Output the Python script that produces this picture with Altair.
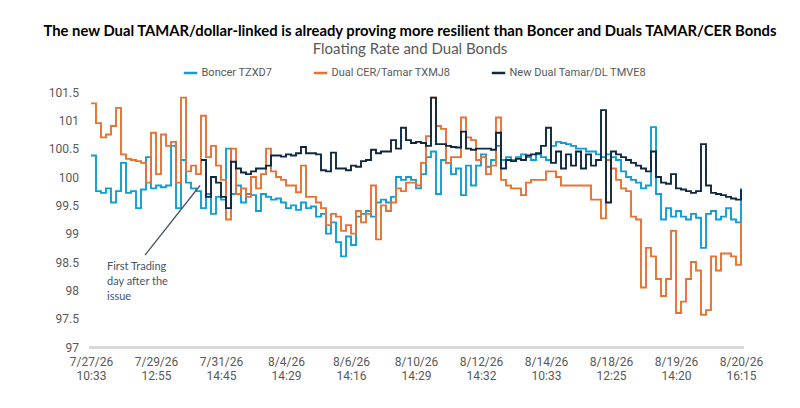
import altair as alt
import pandas as pd

# ---------------- data ----------------
series_names = ["Boncer TZXD7", "Dual CER/Tamar TXMJ8", "New Dual Tamar/DL TMVE8"]
series_colors = ["#0F9ED5", "#E97132", "#0E2841"]

tick_dates = ["7/27/26", "7/29/26", "7/31/26", "8/4/26", "8/6/26", "8/10/26",
              "8/12/26", "8/14/26", "8/18/26", "8/19/26", "8/20/26"]
tick_times = ["10:33", "12:55", "14:45", "14:29", "14:16", "14:29",
              "14:32", "10:33", "12:25", "14:20", "16:15"]
tick_idx = [0, 13, 26, 39, 52, 65, 78, 91, 104, 117, 130]
y_ticks = [97, 97.5, 98, 98.5, 99, 99.5, 100, 100.5, 101, 101.5]

boncer = [
    100.38, 99.75, 99.72, 99.80, 99.55, 99.75, 100.25, 99.72, 99.75, 99.45,
    99.78, 100.35, 99.80, 99.85, 99.82, 99.85, 100.55, 99.45, 100.30, 99.90,
    99.80, 99.75, 99.45, 99.70, 99.35, 99.65, 99.60, 100.50, 99.70, 99.85,
    99.55, 99.70, 99.68, 99.40, 99.70, 99.65, 99.60, 99.62, 99.55, 99.45,
    99.50, 99.42, 99.55, 99.45, 99.48, 99.30, 99.35, 99.00, 99.20, 98.85,
    98.60, 98.95, 98.80, 99.30, 99.35, 99.40, 99.30, 99.55, 99.60, 99.55,
    99.65, 100.00, 99.95, 100.00, 99.95, 99.80, 100.05, 100.35, 100.45, 99.70,
    100.30, 100.25, 100.05, 100.15, 99.68, 100.20, 99.85, 100.20, 100.40, 100.18,
    100.30, 100.55, 100.30, 100.35, 100.30, 100.35, 100.40, 100.35, 100.30, 100.40,
    100.35, 100.30, 100.55, 100.62, 100.60, 100.58, 100.55, 100.50, 100.50, 100.45,
    100.45, 100.40, 100.35, 100.40, 100.35, 100.30, 100.10, 100.00, 99.95, 99.90,
    99.80, 99.85, 100.88, 99.70, 99.25, 99.45, 99.30, 99.40, 99.30, 99.25,
    99.35, 99.28, 98.75, 99.35, 99.40, 99.25, 99.30, 99.45, 99.25, 99.20,
    99.80,
]

dual_cer = [
    101.30, 100.95, 100.70, 100.75, 100.90, 101.22, 100.40, 100.32, 100.30, 100.28,
    100.25, 99.90, 100.78, 100.05, 100.75, 100.55, 100.62, 99.90, 101.40, 100.10,
    100.20, 100.05, 101.08, 100.35, 100.55, 100.20, 99.95, 99.25, 100.50, 99.70,
    99.80, 99.65, 100.00, 99.80, 100.05, 100.50, 100.10, 100.00, 99.95, 99.85,
    99.85, 99.73, 100.20, 99.65, 99.65, 99.55, 99.45, 99.15, 99.35, 99.30,
    99.05, 99.15, 99.00, 99.40, 99.20, 99.35, 99.85, 98.90, 99.50, 99.40,
    99.55, 99.80, 99.75, 99.90, 99.90, 99.85, 100.25, 100.72, 101.40, 100.90,
    100.85, 100.25, 100.35, 100.35, 101.05, 100.70, 100.65, 100.30, 100.35, 100.05,
    100.20, 101.05, 99.95, 99.85, 99.80, 99.80, 99.68, 99.90, 99.95, 99.95,
    99.95, 100.10, 100.10, 100.00, 99.85, 99.85, 99.85, 99.85, 99.85, 99.85,
    99.60, 99.60, 99.27, 100.30, 100.15, 99.95, 99.80, 99.75, 99.30, 99.25,
    98.05, 98.75, 98.60, 98.20, 97.90, 98.20, 99.05, 97.60, 97.80, 98.20,
    98.50, 98.35, 97.57, 97.65, 98.60, 98.35, 98.65, 98.65, 98.60, 98.45,
    99.20,
]

new_dual = [None] * 22 + [
    100.30, 99.65, 100.00, 99.90, 99.65, 99.45, 100.27, 100.15,
    100.08, 100.05, 100.10, 100.15, 100.15, 100.20, 100.38, 100.38, 100.36, 100.40,
    100.38, 100.42, 100.53, 100.42, 100.42, 100.40, 100.12, 100.10, 100.43, 100.15,
    100.15, 100.12, 100.20, 100.18, 100.28, 100.30, 100.48, 100.42, 100.45, 100.45,
    100.65, 100.50, 100.87, 100.65, 100.60, 100.62, 100.60, 100.55, 101.40, 100.58,
    100.58, 100.55, 100.53, 100.52, 100.80, 100.50, 100.48, 100.50, 100.50, 100.50,
    100.48, 100.78, 100.15, 100.30, 100.28, 100.32, 100.30, 100.38, 100.40, 100.42,
    100.55, 100.87, 100.25, 100.45, 100.15, 100.40, 100.20, 100.45, 100.15, 100.40,
    100.20, 100.30, 101.18, 99.55, 100.45, 100.40, 100.35, 100.30, 100.25, 100.20,
    100.15, 100.10, 100.45, 100.00, 99.90, 99.88, 100.05, 99.80, 99.78, 99.75,
    99.72, 99.75, 100.58, 99.85, 99.72, 99.70, 99.68, 99.65, 99.62, 99.60,
    99.78,
]

# annotation (data coordinates)
note_lines = ["First Trading", "day after the", "issue"]
note_x = [3.2]
note_y = [98.52]
arrow_x = [10.8]
arrow_y = [98.62]
arrow_x2 = [21.8]
arrow_y2 = [99.85]

title_text = ("The new Dual TAMAR/dollar-linked is already proving more resilient "
              "than Boncer and Duals TAMAR/CER Bonds")
subtitle_text = "Floating Rate and Dual Bonds"

# ---------------- build tables ----------------
rows = []
for name, vals in zip(series_names, [boncer, dual_cer, new_dual]):
    for i, v in enumerate(vals):
        if v is not None:
            rows.append({"i": i, "value": v, "series": name})
df = pd.DataFrame(rows)

label_arr = "[" + ",".join(f"['{d}','{t}']" for d, t in zip(tick_dates, tick_times)) + "]"
label_expr = f"{label_arr}[round(datum.value / 13)]"

AXIS_FONT = "Liberation Sans Narrow, Roboto, sans-serif"

x_scale = alt.Scale(domain=[-0.5, 130.5], nice=False, zero=False)
y_scale = alt.Scale(domain=[97, 101.5], nice=False, zero=False)
x_axis = alt.Axis(
    values=tick_idx, labelExpr=label_expr, title=None, grid=False,
    ticks=False, domainColor="#d9d9d9", domainWidth=3,
    labelFont=AXIS_FONT, labelFontSize=12, labelColor="#595959",
    labelPadding=9, labelLineHeight=14, labelBaseline="top",
    labelOverlap=False,
)
y_axis = alt.Axis(
    values=y_ticks, labelExpr="format(datum.value, '~g')", title=None,
    grid=False, ticks=False, domain=False, labelFont=AXIS_FONT,
    labelFontSize=12, labelColor="#595959", labelPadding=10,
    labelOverlap=False, labelFlush=False, tickCount=10,
)
color_enc = alt.Color(
    "series:N",
    scale=alt.Scale(domain=series_names, range=series_colors),
    legend=alt.Legend(
        title=None, orient="none", direction="horizontal",
        legendX=94, legendY=-27, symbolType="stroke", symbolStrokeWidth=2.5,
        symbolSize=180, labelFont=AXIS_FONT, labelFontSize=11,
        labelColor="#595959", columnPadding=36, labelOffset=3,
    ),
)

base = alt.Chart(df).encode(
    x=alt.X("i:Q", scale=x_scale, axis=x_axis),
    y=alt.Y("value:Q", scale=y_scale, axis=y_axis),
    color=color_enc,
)
layers = [
    base.transform_filter(alt.datum.series == n).mark_line(
        interpolate="step-after", strokeWidth=1.9
    )
    for n in series_names
]

arrow_df = pd.DataFrame({"i": arrow_x, "value": arrow_y, "i2": arrow_x2, "value2": arrow_y2})
arrow = alt.Chart(arrow_df).mark_rule(color="#44546A", strokeWidth=1.3).encode(
    x=alt.X("i:Q", scale=x_scale, axis=x_axis),
    y=alt.Y("value:Q", scale=y_scale, axis=y_axis),
    x2="i2:Q", y2="value2:Q",
)

note_df = pd.DataFrame({"i": note_x, "value": note_y, "t": ["\n".join(note_lines)]})
note = alt.Chart(note_df).mark_text(
    align="left", baseline="top", lineBreak="\n", lineHeight=15,
    font="Lato", fontSize=11, color="#44546A",
).encode(
    x=alt.X("i:Q", scale=x_scale, axis=x_axis),
    y=alt.Y("value:Q", scale=y_scale, axis=y_axis),
    text="t:N",
)

chart = alt.layer(*layers, arrow, note).properties(
    width=655,
    height=255,
    background="white",
    autosize=alt.AutoSizeParams(type="none"),
    padding={"left": 80.5, "top": 84, "right": 48.5, "bottom": 53},
    title=alt.TitleParams(
        text=title_text, subtitle=subtitle_text, anchor="middle",
        font="Lato", fontSize=14.8, fontWeight="bold", color="#000000",
        subtitleFont="Lato", subtitleFontSize=15, subtitleColor="#595959",
        offset=8, subtitlePadding=3, dx=-6,
    ),
).configure_view(stroke=None)

chart.save("out.html", embed_options={"renderer": "svg", "actions": False})
